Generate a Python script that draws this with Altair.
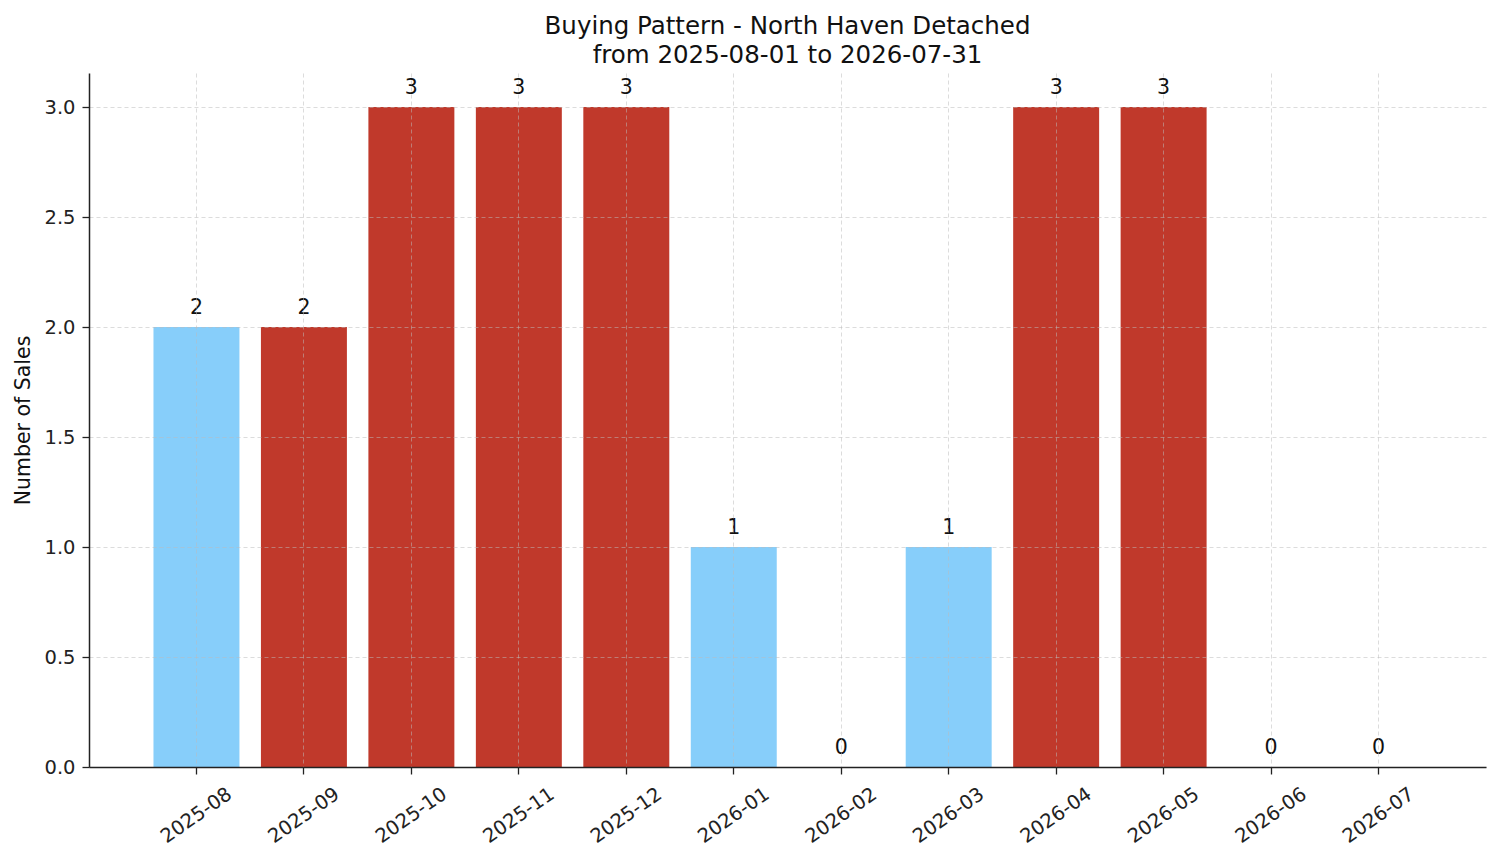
import altair as alt
import pandas as pd

months = ['2025-08', '2025-09', '2025-10', '2025-11', '2025-12', '2026-01',
          '2026-02', '2026-03', '2026-04', '2026-05', '2026-06', '2026-07']
sales = [2, 2, 3, 3, 3, 1, 0, 1, 3, 3, 0, 0]
groups = ['blue', 'red', 'red', 'red', 'red', 'blue',
          'red', 'blue', 'red', 'red', 'red', 'red']

df = pd.DataFrame({'month': months, 'sales': sales, 'group': groups})

FONT = 'DejaVu Sans'

x_enc = alt.X('month:N', sort=None, title=None,
              scale=alt.Scale(paddingInner=0.2, paddingOuter=0.6),
              axis=alt.Axis(labelAngle=-35, labelAlign='center', labelBaseline='middle',
                            labelPadding=41, labelFontSize=19.5, labelColor='#222',
                            tickSize=7, tickColor='#222', tickWidth=1.3,
                            domainColor='#222', domainWidth=1.5,
                            grid=True, gridColor='#bbbbbb', gridOpacity=0.65, gridDash=[4, 3],
                            gridWidth=0.8, bandPosition=0.5, zindex=1))

bars = alt.Chart(df).mark_bar().encode(
    x=x_enc,
    y=alt.Y('sales:Q', title='Number of Sales',
            scale=alt.Scale(domain=[0, 3.155], nice=False, zero=True),
            axis=alt.Axis(values=[0, 0.5, 1, 1.5, 2, 2.5, 3], format='.1f',
                          labelFontSize=19.5, labelColor='#222', labelPadding=7,
                          tickSize=7, tickColor='#222', tickWidth=1.3,
                          domainColor='#222', domainWidth=1.5,
                          titleFontSize=20.5, titleFontWeight='normal', titleColor='#111',
                          titlePadding=10,
                          grid=True, gridColor='#bbbbbb', gridOpacity=0.65, gridDash=[4, 3],
                          gridWidth=0.8, zindex=1)),
    color=alt.Color('group:N', legend=None,
                    scale=alt.Scale(domain=['blue', 'red'], range=['#87CEFA', '#C0392B']))
)

labels = alt.Chart(df).mark_text(fontSize=20.5, baseline='alphabetic', dy=-13, color='#111',
                                 font=FONT).encode(
    x=alt.X('month:N', sort=None),
    y=alt.Y('sales:Q'),
    text=alt.Text('sales:Q')
)

chart = (bars + labels).properties(
    width=1397,
    height=694,
    padding={'left': 81, 'top': 65, 'right': 7, 'bottom': 80},
    autosize=alt.AutoSizeParams(type='none'),
    title=alt.Title(['Buying Pattern - North Haven Detached', 'from 2025-08-01 to 2026-07-31'],
                    fontSize=24.5, fontWeight='normal', color='#111', lineHeight=29,
                    anchor='middle', offset=5, font=FONT)
).configure(font=FONT).configure_view(stroke=None)

chart.save('out.html', embed_options={'renderer': 'svg', 'actions': False})
